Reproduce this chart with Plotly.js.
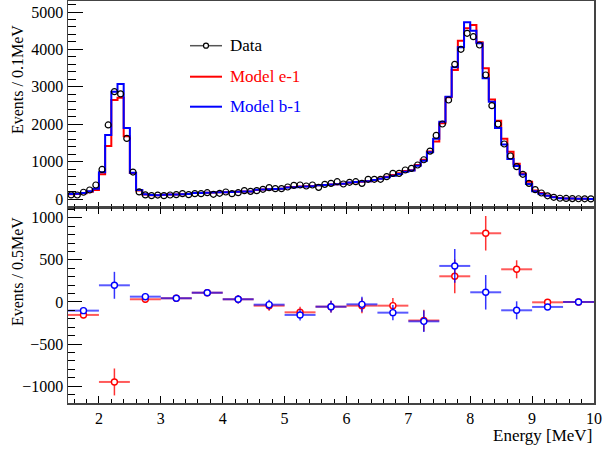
<!DOCTYPE html>
<html>
<head>
<meta charset="utf-8">
<script src="https://cdn.plot.ly/plotly-3.0.1.min.js"></script>
<style>html,body{margin:0;padding:0;background:#fff;}#chart{width:603px;height:449px;}</style>
</head>
<body>
<div id="chart"></div>
<script>
// ---------- DATA ----------
const histStart = 1.5;      // MeV, left edge of first fine bin
const histWidth = 0.1;      // MeV per fine bin
const histEnd = 10.0;

const dataCounts = [
  110, 107, 180, 240, 374,   790, 1980, 2870, 2810, 1620,
  720, 190, 110, 90, 105,    89, 107, 116, 143, 116,
  143, 143, 169, 125, 152,   187, 143, 169, 223, 205,
  223, 259, 303, 276, 276,   321, 365, 374, 348, 374,
  312, 392, 419, 463, 401,   446, 463, 419, 526, 526,
  526, 597, 686, 686, 775,   820, 909, 1050, 1280, 1700,
  2005, 2647, 3600, 4002, 4430, 4340, 4118, 3316, 2496, 2005,
  1471, 1150, 865, 660, 419, 250, 160, 85, 45, 20,
  14, 10, 7, 5, 3
];
const modelE1 = [
  130, 135, 155, 195, 242,   660, 1420, 2650, 2710, 1680,
  695, 230, 120, 103, 100,   115, 118, 122, 127, 133,
  158, 163, 168, 174, 179,   180, 186, 192, 198, 203,
  243, 252, 261, 266, 275,   311, 321, 331, 339, 350,
  365, 375, 385, 395, 407,   435, 450, 462, 475, 503,
  550, 595, 640, 690, 751,   770, 910, 1050, 1270, 1540,
  2023, 2718, 3449, 4234, 4563, 4652, 4189, 3494, 2662, 2094,
  1610, 1260, 940, 680, 463, 225, 160, 95, 52, 24,
  14, 10, 7, 5, 3
];
const modelB1 = [
  132, 138, 160, 205, 273,   713, 1710, 2870, 3075, 1900,
  705, 240, 125, 105, 103,   115, 118, 122, 127, 133,
  158, 163, 168, 174, 179,   180, 186, 192, 198, 203,
  245, 254, 263, 268, 277,   305, 315, 325, 333, 344,
  365, 375, 385, 395, 407,   440, 455, 465, 475, 505,
  540, 580, 620, 670, 726,   760, 890, 1020, 1250, 1610,
  2068, 2736, 3520, 4055, 4724, 4500, 4162, 3226, 2602, 1900,
  1460, 1070, 880, 655, 401, 205, 140, 85, 48, 23,
  14, 10, 7, 5, 3
];

// residuals (model - data) in 0.5 MeV bins
const resCenters = [1.75, 2.25, 2.75, 3.25, 3.75, 4.25, 4.75, 5.25, 5.75, 6.25, 6.75, 7.25, 7.75, 8.25, 8.75, 9.25, 9.75];
const resHalfWidth = 0.25;
const resE1 = [-154, -950, 32, 44, 110, 32, -44, -123, -56, -44, -44, -220, 305, 816, 388, -4, 0];
const resB1 = [-103, 198, 63, 44, 110, 32, -32, -154, -56, -28, -127, -230, 428, 115, -99, -59, 0];
const resErr = [40, 160, 44, 36, 40, 49, 59, 65, 69, 89, 91, 128, 200, 205, 107, 30, 8];

const xTitle = 'Energy [MeV]';
const yTitleTop = 'Events / 0.1MeV';
const yTitleBot = 'Events / 0.5MeV';
const legendLabels = ['Data', 'Model e-1', 'Model b-1'];

// ---------- BUILD ----------
const nBins = dataCounts.length;
const edges = [], centers = [];
for (let i = 0; i < nBins; i++) {
  edges.push(+(histStart + i * histWidth).toFixed(3));
  centers.push(+(histStart + (i + 0.5) * histWidth).toFixed(3));
}
edges.push(histEnd);
const stepY = arr => arr.concat([arr[arr.length - 1]]);

const RED = '#ff0000', BLUE = '#0000ff';
const serif = 'Liberation Serif';

const traces = [
  {x: edges, y: stepY(modelE1), xaxis: 'x', yaxis: 'y', type: 'scatter', mode: 'lines',
   line: {shape: 'hv', color: RED, width: 2}, hoverinfo: 'skip'},
  {x: edges, y: stepY(modelB1), xaxis: 'x', yaxis: 'y', type: 'scatter', mode: 'lines',
   line: {shape: 'hv', color: BLUE, width: 2}, hoverinfo: 'skip'},
  {x: centers, y: dataCounts, xaxis: 'x', yaxis: 'y', type: 'scatter', mode: 'markers',
   marker: {symbol: 'circle-open', size: 6, color: '#000', line: {width: 1.2, color: '#000'}}},
  {x: resCenters, y: resE1, xaxis: 'x2', yaxis: 'y2', type: 'scatter', mode: 'markers',
   marker: {symbol: 'circle', size: 6, color: '#fff', line: {width: 1.4, color: RED}},
   error_y: {type: 'data', array: resErr, visible: true, width: 0, thickness: 1.5, color: 'rgba(255,0,0,0.8)'},
   error_x: {type: 'constant', value: resHalfWidth, visible: true, width: 0, thickness: 2, color: 'rgba(255,0,0,0.65)'}},
  {x: resCenters, y: resB1, xaxis: 'x2', yaxis: 'y2', type: 'scatter', mode: 'markers',
   marker: {symbol: 'circle', size: 6, color: '#fff', line: {width: 1.4, color: BLUE}},
   error_y: {type: 'data', array: resErr, visible: true, width: 0, thickness: 1.5, color: 'rgba(0,0,255,0.8)'},
   error_x: {type: 'constant', value: resHalfWidth, visible: true, width: 0, thickness: 2, color: 'rgba(0,0,255,0.65)'}}
];

const W = 603, H = 449, mL = 68, mR = 9, mT = 1, mB = 46;
const pw = W - mL - mR, ph = H - mT - mB;
const px2x = px => (px - mL) / pw;
const py2y = py => (H - mB - py) / ph;
const split = py2y(207);

const axisCommon = {
  showgrid: false, zeroline: false, showline: true, linecolor: '#444', linewidth: 1.5,
  ticks: 'inside', tickcolor: '#000', tickwidth: 1,
  tickfont: {family: serif, size: 16, color: '#000'}
};

const legendY = [py2y(45.7), py2y(76.7), py2y(106.7)];
const legendColors = ['#000', RED, BLUE];
const shapes = [
  {type: 'line', xref: 'paper', yref: 'paper', x0: px2x(190), x1: px2x(222), y0: legendY[0], y1: legendY[0], line: {color: '#555', width: 1.5}},
  {type: 'line', xref: 'paper', yref: 'paper', x0: px2x(190), x1: px2x(222), y0: legendY[1], y1: legendY[1], line: {color: RED, width: 2}},
  {type: 'line', xref: 'paper', yref: 'paper', x0: px2x(190), x1: px2x(222), y0: legendY[2], y1: legendY[2], line: {color: BLUE, width: 2}},
  {type: 'circle', xref: 'paper', yref: 'paper', x0: px2x(203.5), x1: px2x(208.5), y0: legendY[0] - 2.5 / ph, y1: legendY[0] + 2.5 / ph,
   line: {color: '#000', width: 1.2}, fillcolor: '#fff'}
];
const annotations = legendLabels.map((t, i) => ({
  text: t, xref: 'paper', yref: 'paper', x: px2x(228), y: legendY[i], xanchor: 'left', yanchor: 'middle',
  showarrow: false, font: {family: serif, size: 17, color: legendColors[i]}
}));
annotations.push({text: xTitle, xref: 'paper', yref: 'paper', x: 1, y: py2y(435), xanchor: 'right', yanchor: 'middle',
  showarrow: false, font: {family: serif, size: 17, color: '#000'}});
annotations.push({text: yTitleTop, xref: 'paper', yref: 'paper', x: px2x(17), y: py2y(80), xanchor: 'center', yanchor: 'middle',
  textangle: -90, showarrow: false, font: {family: serif, size: 16, color: '#000'}});
annotations.push({text: yTitleBot, xref: 'paper', yref: 'paper', x: px2x(17), y: py2y(272), xanchor: 'center', yanchor: 'middle',
  textangle: -90, showarrow: false, font: {family: serif, size: 16, color: '#000'}});

const layout = {
  width: W, height: H, margin: {l: mL, r: mR, t: mT, b: mB, pad: 0},
  font: {family: serif, size: 16, color: '#000'},
  paper_bgcolor: '#fff', plot_bgcolor: '#fff', showlegend: false,
  xaxis: Object.assign({}, axisCommon, {domain: [0, 1], anchor: 'y', range: [1.5, 10], tick0: 0, dtick: 1,
    ticklen: 5, showticklabels: false, mirror: true,
    minor: {ticks: 'inside', ticklen: 3, dtick: 0.2, tickcolor: '#000'}}),
  yaxis: Object.assign({}, axisCommon, {domain: [split, 1], anchor: 'x', range: [-214, 5294], tick0: 0, dtick: 1000,
    ticklen: 15, mirror: true, minor: {ticks: 'inside', ticklen: 8, dtick: 200, tickcolor: '#000'}}),
  xaxis2: Object.assign({}, axisCommon, {domain: [0, 1], anchor: 'y2', range: [1.5, 10], tick0: 0, dtick: 1,
    ticklen: 7, mirror: 'ticks', minor: {ticks: 'inside', ticklen: 4, dtick: 0.2, tickcolor: '#000'}}),
  yaxis2: Object.assign({}, axisCommon, {domain: [0, split], anchor: 'x2', range: [-1200, 1128], tick0: 0, dtick: 500,
    ticklen: 14, mirror: true, minor: {ticks: 'inside', ticklen: 7, dtick: 100, tickcolor: '#000'}}),
  shapes: shapes, annotations: annotations
};

Plotly.newPlot('chart', traces, layout, {staticPlot: true});
</script>
</body>
</html>
